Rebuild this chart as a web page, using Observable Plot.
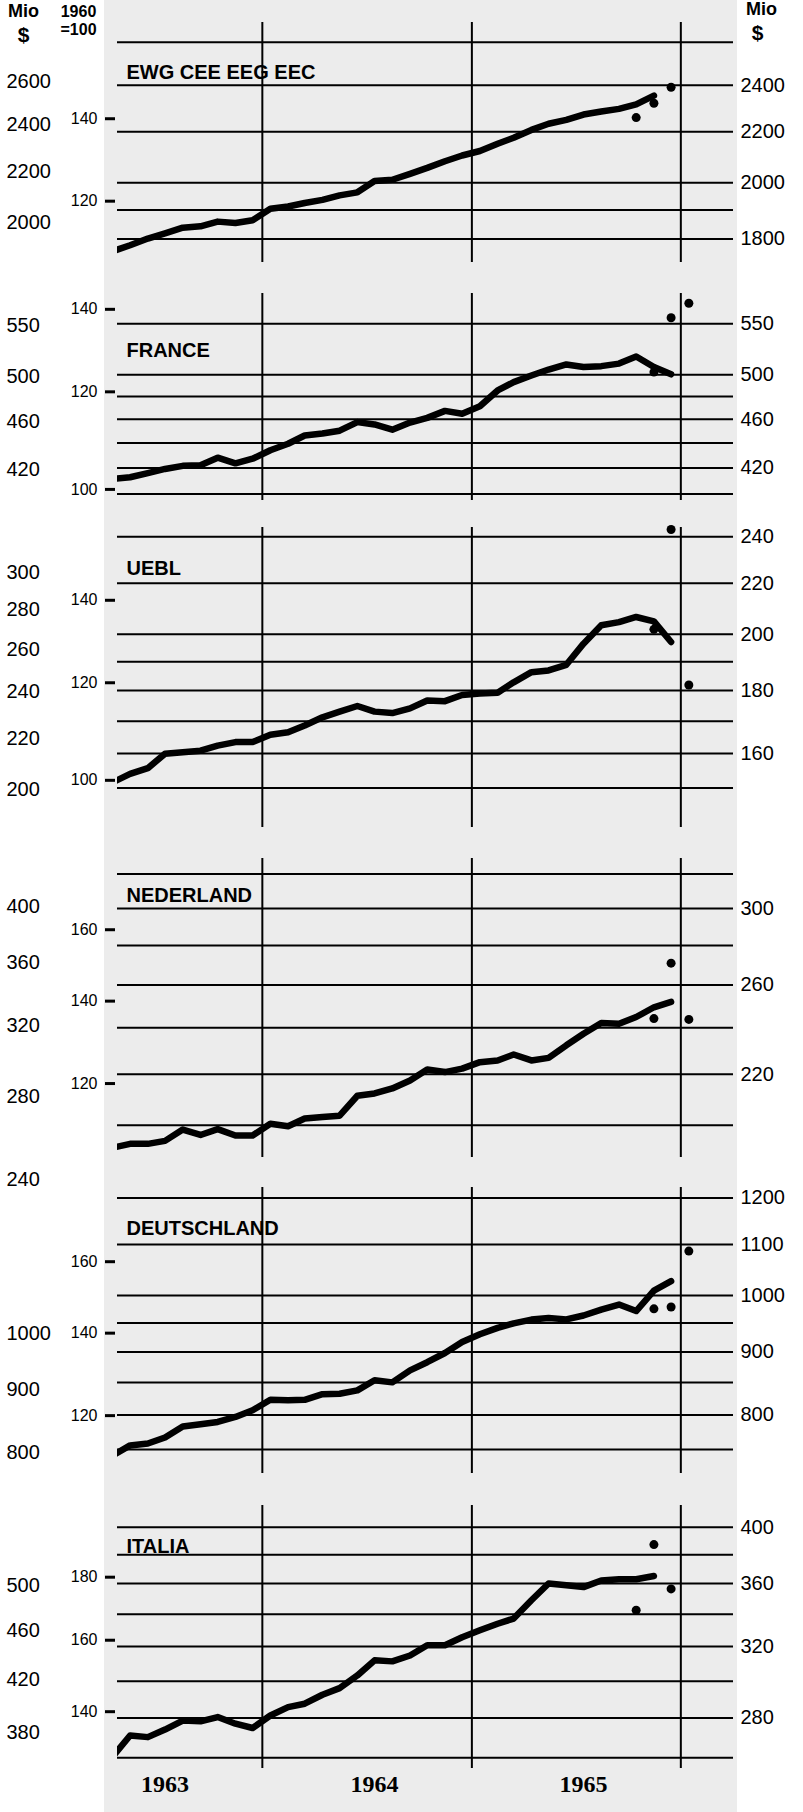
<!DOCTYPE html>
<html>
<head>
<meta charset="utf-8">
<script src="https://cdn.jsdelivr.net/npm/d3@7"></script>
<script src="https://cdn.jsdelivr.net/npm/@observablehq/plot@0.6"></script>
<style>
  html, body { margin: 0; padding: 0; background: #fff; }
  #page { position: relative; width: 803px; height: 1812px; overflow: hidden; background: #fff; }
  #paper { position: absolute; left: 104px; top: 0; width: 633px; height: 1812px; background: #ececec; }
  .panel { position: absolute; left: 0; }
</style>
</head>
<body>
<div id="page"><div id="paper"></div></div>
<script>
// ---------- DATA (index 1960 = 100, monthly, seasonally adjusted) ----------
const months = [
  "1963-04","1963-05","1963-06","1963-07","1963-08","1963-09","1963-10","1963-11","1963-12",
  "1964-01","1964-02","1964-03","1964-04","1964-05","1964-06","1964-07","1964-08","1964-09","1964-10","1964-11","1964-12",
  "1965-01","1965-02","1965-03","1965-04","1965-05","1965-06","1965-07","1965-08","1965-09","1965-10","1965-11","1965-12"
];

const ewgValues = [109.3,110.5,111.9,113.0,114.2,114.5,115.5,115.2,115.8,
  118.3,118.8,119.6,120.3,121.3,122.0,124.6,124.9,126.3,127.7,129.3,130.7,
  131.8,133.6,135.1,137.1,138.7,139.7,141.1,141.9,142.6,143.8,146.2,null];
const ewgDotMonths = ["1965-10","1965-11","1965-12"];
const ewgDotValues = [140.3,144.1,148.5];

const franceValues = [102.0,102.3,103.1,103.9,104.5,104.6,106.1,105.0,105.9,
  107.6,108.9,110.6,111.0,111.6,113.4,112.9,111.8,113.3,114.3,115.8,115.2,
  116.8,120.3,122.2,123.7,125.1,126.3,125.7,125.9,126.5,128.2,125.7,124.0];
const franceDotMonths = ["1965-11","1965-12","1966-01"];
const franceDotValues = [124.5,137.8,141.6];

const ueblValues = [99.65,101.2,102.3,105.1,105.4,105.7,106.7,107.4,107.4,
  108.9,109.4,110.8,112.5,113.7,114.9,113.7,113.4,114.4,116.1,115.95,117.3,
  117.6,117.8,120.1,122.4,122.8,124.1,129.1,133.6,134.4,135.7,134.6,129.5];
const ueblDotMonths = ["1965-11","1965-12","1966-01"];
const ueblDotValues = [132.6,159.8,119.5];

const nederlandValues = [106.45,107.2,107.2,107.8,110.1,109.0,110.2,108.9,108.9,
  111.3,110.8,112.4,112.7,113.0,117.3,117.8,118.9,120.7,123.2,122.6,123.4,
  124.9,125.3,126.7,125.3,125.9,128.9,131.7,134.4,134.2,135.9,138.4,139.8];
const nederlandDotMonths = ["1965-11","1965-12","1966-01"];
const nederlandDotValues = [135.5,150.3,135.3];

const deutschlandValues = [111.4,113.5,113.9,115.2,117.6,118.1,118.6,119.7,121.2,
  123.6,123.5,123.6,124.9,125.0,125.8,128.2,127.7,130.6,132.6,134.9,137.7,
  139.7,141.4,142.6,143.6,144.0,143.65,144.7,146.3,147.7,145.9,151.6,154.3];
const deutschlandDotMonths = ["1965-11","1965-12","1966-01"];
const deutschlandDotValues = [146.5,147.0,163.2];

const italiaValues = [128.8,133.9,133.5,135.4,137.7,137.5,138.6,136.9,135.8,
  139.0,141.2,142.1,144.5,146.3,149.8,154.1,153.8,155.5,158.5,158.5,160.9,
  163.0,165.0,166.6,172.4,177.9,177.3,176.7,178.9,179.3,179.3,180.4,null];
const italiaDotMonths = ["1965-10","1965-11","1965-12"];
const italiaDotValues = [169.2,191.3,176.1];

// panel names
const panelNames = ["EWG CEE EEG EEC","FRANCE","UEBL","NEDERLAND","DEUTSCHLAND","ITALIA"];

// index (1960=100) tick labels
const indexTicks = [[140,120],[140,120,100],[140,120,100],[160,140,120],[160,140,120],[180,160,140]];

// Mio $ scales: value = index * base / 100
const leftMioTicks  = [[2600,2400,2200,2000],[550,500,460,420],[300,280,260,240,220,200],[400,360,320,280,240],[1000,900,800],[500,460,420,380]];
const leftMioBase   = [1734,405,203.5,239.2,714.5,282.4];
const rightMioTicks = [[2400,2200,2000,1800],[550,500,460,420],[240,220,200,180,160],[300,260,220],[1200,1100,1000,900,800],[400,360,320,280]];
const rightMioBase  = [1610,403.5,152.2,180.2,665.9,202.4];
const gridMio       = [[2600,2400,2200,2000,1900,1800],[550,500,480,460,440,420,400],[240,220,200,190,180,170,160,150],[320,300,280,260,240,220,200],[1200,1100,1000,950,900,850,800,750],[400,380,360,340,320,300,280,260]];

// year boundaries and year labels
const yearStarts = ["1964-01-01","1965-01-01","1966-01-01"];
const yearLabels = ["1963","1964","1965"];

// ---------- LAYOUT (not data) ----------
const panelTop    = [22, 293, 527, 858, 1187, 1505];
const panelHeight = [240, 207, 300, 299, 286, 263];
const panelDomain = [[107.0,167.6],[97.95,144.2],[91.56,160.4],[104.5,182.8],[107.7,183.8],[125.9,205.8]];
const titleDy     = [42, 49.5, 33, 29, 33, 33.5];
const xDomain = [new Date("1963-04-23T00:00:00Z"), new Date("1966-04-03T00:00:00Z")];

const seriesValues = [ewgValues, franceValues, ueblValues, nederlandValues, deutschlandValues, italiaValues];
const seriesDotMonths = [ewgDotMonths, franceDotMonths, ueblDotMonths, nederlandDotMonths, deutschlandDotMonths, italiaDotMonths];
const seriesDotValues = [ewgDotValues, franceDotValues, ueblDotValues, nederlandDotValues, deutschlandDotValues, italiaDotValues];

const SANS = "'Liberation Sans', Arial, sans-serif";
const SERIF = "'Liberation Serif', 'Times New Roman', serif";
const mid = m => new Date(m + "-15T00:00:00Z");

const page = document.getElementById("page");

for (let k = 0; k < 6; k++) {
  const baseL = leftMioBase[k], baseR = rightMioBase[k];
  const lineData = months.map((m, i) => ({date: mid(m), v: seriesValues[k][i]})).filter(d => d.v != null);
  const dotData = seriesDotMonths[k].map((m, i) => ({date: mid(m), v: seriesDotValues[k][i]}));
  const isLast = k === 5;

  const marks = [
    Plot.ruleY(gridMio[k], {y: m => m / baseR * 100, stroke: "#000", strokeWidth: 2}),
    Plot.ruleX(yearStarts, {x: d => new Date(d + "T00:00:00Z"), stroke: "#000", strokeWidth: 2}),
    Plot.axisY(indexTicks[k], {anchor: "left", label: null, tickSize: 10, tickPadding: 8, dx: -2,
      strokeWidth: 3, fontSize: 16, fontFamily: SANS, tickFormat: d => String(d)}),
    Plot.axisY(leftMioTicks[k].map(m => m / baseL * 100), {anchor: "left", label: null, tickSize: 0,
      tickPadding: 111, textAnchor: "start", fontSize: 20, fontFamily: SANS,
      tickFormat: d => String(Math.round(d * baseL / 100))}),
    Plot.axisY(rightMioTicks[k].map(m => m / baseR * 100), {anchor: "right", label: null, tickSize: 0,
      tickPadding: 7, fontSize: 20, fontFamily: SANS,
      tickFormat: d => String(Math.round(d * baseR / 100))}),
    Plot.line(lineData, {x: "date", y: "v", stroke: "#000", strokeWidth: 6.5, strokeLinejoin: "round",
      strokeLinecap: "round", clip: true}),
    Plot.dot(dotData, {x: "date", y: "v", r: 4.5, fill: "#000", stroke: null}),
    Plot.text([panelNames[k]], {text: d => d, frameAnchor: "top-left", dx: 9, dy: titleDy[k],
      textAnchor: "start", fontWeight: "bold", fontSize: 20, fontFamily: SANS, fill: "#000"})
  ];

  if (k === 0) {
    const hdr = (t, anchor, dx, dy, size) => Plot.text([t], {text: d => d, frameAnchor: anchor, dx, dy,
      lineAnchor: "bottom", textAnchor: "middle", fontWeight: "bold", fontSize: size, fontFamily: SANS, fill: "#000"});
    marks.push(
      hdr("Mio", "top-left", -94, -6, 18),
      hdr("$", "top-left", -94, 19, 21),
      hdr("1960", "top-left", -39, -6, 16),
      hdr("=100", "top-left", -39, 12, 16),
      hdr("Mio", "top-right", 28, -8, 18),
      hdr("$", "top-right", 24, 17, 21)
    );
  }
  if (isLast) {
    marks.push(Plot.axisX(yearLabels.map(y => new Date(y + "-07-15T00:00:00Z")), {anchor: "bottom", label: null,
      tickSize: 0, tickPadding: 6, fontSize: 24, fontWeight: "bold", fontFamily: SERIF,
      tickFormat: d => String(d.getUTCFullYear())}));
  }

  const svg = Plot.plot({
    width: 803,
    height: panelHeight[k],
    marginTop: 0, marginBottom: 0, marginLeft: 117, marginRight: 70,
    style: {background: "none", overflow: "visible", color: "#000", fontFamily: SANS},
    x: {type: "utc", domain: xDomain, axis: isLast ? undefined : null},
    y: {type: "log", domain: panelDomain[k]},
    marks
  });
  svg.classList.add("panel");
  svg.style.top = panelTop[k] + "px";
  svg.style.position = "absolute";
  svg.style.left = "0px";
  page.appendChild(svg);
}
</script>
</body>
</html>
